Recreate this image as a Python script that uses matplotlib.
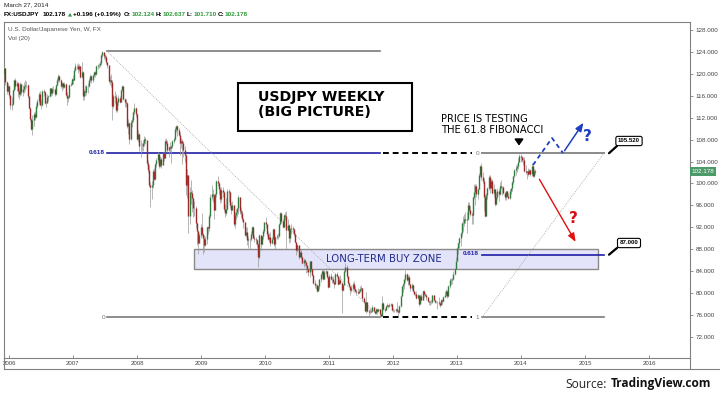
import matplotlib
matplotlib.use("Agg")
import matplotlib.pyplot as plt
import numpy as np
import pandas as pd
from matplotlib.patches import Rectangle
from matplotlib.lines import Line2D

# weekly USDJPY candles, first week ending 2005-12-02
first_open = 119.3
closes = [
    119.9, 121.0, 118.5, 116.9, 117.8,  # 2005
    116.1, 114.3, 114.5, 117.0, 118.9, 117.7, 118.3, 116.8, 116.3, 118.2, 116.6, 117.3, 117.7,
    117.9, 118.0, 116.0, 113.8, 111.8, 110.0, 111.6, 112.7, 112.2, 114.2, 115.0, 116.4, 114.4,
    114.3, 116.9, 116.6, 114.7, 114.7, 115.8, 116.0, 117.4, 116.5, 117.2, 117.2, 116.4, 118.0,
    118.8, 119.6, 118.8, 117.7, 118.3, 117.6, 118.2, 116.2, 115.6, 115.8, 118.0, 118.2, 119.0,  # 2006
    118.9, 120.7, 121.5, 121.4, 120.8, 121.4, 119.5, 120.3, 116.0, 116.8, 116.6, 117.7, 117.8,
    118.9, 119.6, 118.9, 119.7, 120.3, 119.9, 121.4, 121.6, 121.7, 121.9, 123.4, 123.9, 123.2,
    123.1, 122.1, 121.6, 118.7, 118.8, 118.6, 114.2, 116.0, 115.8, 113.4, 114.8, 115.6, 114.8,
    117.0, 117.7, 115.5, 114.8, 114.6, 110.5, 111.0, 108.1, 111.2, 111.6, 113.0, 113.7, 112.6,  # 2007
    108.1, 109.0, 106.9, 106.9, 106.8, 107.3, 108.2, 107.9, 103.7, 102.4, 99.8, 99.3, 99.8,
    102.2, 100.9, 103.5, 104.3, 105.4, 103.2, 104.5, 103.4, 105.5, 104.6, 107.8, 107.4, 106.1,
    106.6, 106.4, 106.9, 107.8, 108.1, 109.9, 110.5, 109.7, 108.8, 107.3, 107.8, 107.4, 106.1,
    105.2, 99.7, 101.6, 94.1, 98.5, 98.3, 97.3, 95.5, 95.5, 92.7, 91.4, 89.2, 90.6,  # 2008
    92.1, 90.8, 90.0, 88.8, 89.8, 92.0, 91.9, 94.0, 97.6, 98.1, 97.9, 95.2, 98.0,
    100.4, 100.0, 99.0, 97.2, 98.8, 98.4, 95.3, 94.6, 95.3, 98.6, 98.4, 96.0, 95.2,
    96.0, 92.6, 94.2, 94.8, 95.5, 97.6, 94.9, 94.6, 93.6, 92.9, 90.6, 91.2, 89.7,
    89.8, 89.8, 90.8, 92.1, 90.1, 89.9, 89.7, 89.0, 86.5, 90.6, 89.0, 90.4, 91.3,  # 2009
    93.0, 92.6, 90.8, 89.9, 90.3, 89.2, 89.9, 91.6, 89.0, 90.3, 90.5, 90.5, 92.6,
    94.6, 93.2, 92.1, 94.2, 94.0, 91.5, 92.5, 90.0, 91.7, 91.8, 91.7, 90.7, 89.3,
    87.8, 88.7, 86.6, 87.4, 86.5, 85.4, 86.1, 85.6, 85.1, 84.3, 83.9, 85.8, 84.3,
    83.3, 81.9, 81.4, 81.4, 80.4, 81.2, 82.5, 83.5, 84.1, 82.5, 83.9, 84.0, 82.9, 81.1,  # 2010
    83.2, 82.6, 82.5, 82.1, 81.7, 83.4, 83.1, 81.7, 82.4, 81.8, 80.6, 81.5, 84.0,
    84.8, 83.1, 81.9, 81.2, 80.6, 80.9, 81.7, 80.8, 80.4, 80.2, 80.0, 80.4, 80.8,
    81.0, 79.1, 78.4, 76.8, 78.4, 76.8, 76.5, 76.6, 76.8, 77.5, 76.8, 76.3, 77.1,
    76.7, 77.0, 76.2, 75.8, 78.2, 77.1, 76.9, 77.7, 77.9, 77.6, 77.8, 78.0, 76.9,  # 2011
    76.9, 76.9, 77.0, 76.7, 76.6, 77.6, 79.5, 81.2, 81.7, 82.5, 83.4, 82.4, 82.9,
    81.7, 80.9, 81.5, 80.3, 79.9, 79.9, 79.1, 79.7, 78.0, 79.5, 78.7, 80.4, 79.8,
    79.6, 79.2, 78.5, 78.4, 78.4, 78.3, 79.6, 78.7, 78.3, 78.4, 78.4, 78.2, 77.9,
    78.7, 78.5, 79.3, 79.6, 80.4, 79.5, 81.3, 82.4, 82.4, 82.5, 83.5, 84.3, 85.8,  # 2012
    88.2, 89.2, 90.1, 90.9, 92.7, 92.7, 93.5, 93.4, 93.6, 96.0, 95.2, 94.5, 94.2,
    97.6, 98.4, 99.6, 98.0, 99.0, 101.6, 103.2, 101.2, 100.5, 97.6, 94.1, 97.9, 99.2,
    101.2, 99.2, 100.4, 98.3, 98.9, 96.2, 97.5, 98.7, 98.1, 99.6, 99.4, 99.4, 98.3,
    97.5, 98.6, 97.7, 97.4, 98.6, 99.1, 100.2, 101.3, 102.4, 102.9, 103.2, 104.0, 105.0,  # 2013
    104.8, 104.2, 104.3, 102.3, 102.0, 102.2, 101.8, 102.5, 101.8, 103.2, 101.4, 102.2, 102.178,  # 2014
]
highs = [
    120.3, 121.4, 121.0, 118.7, 118.3,
    118.0, 116.2, 115.8, 117.3, 119.0, 119.3, 118.7, 118.6, 117.4, 118.6, 118.3, 117.9, 118.5,
    118.9, 118.7, 118.2, 116.0, 114.0, 112.0, 112.5, 113.1, 113.2, 114.6, 115.4, 116.6, 116.9,
    115.2, 117.1, 117.3, 116.8, 115.0, 116.3, 116.2, 117.5, 117.4, 117.6, 117.8, 117.5, 118.2,
    119.2, 119.9, 119.8, 119.0, 118.6, 118.5, 118.5, 118.3, 116.6, 116.2, 118.2, 118.5, 119.3,
    119.8, 121.0, 121.9, 121.8, 121.9, 121.8, 121.5, 122.2, 120.5, 117.2, 118.0, 117.9, 118.3,
    119.2, 119.9, 119.7, 120.0, 120.6, 120.5, 121.6, 121.8, 122.0, 122.4, 123.6, 124.1, 123.9,
    123.6, 123.4, 122.2, 121.6, 119.6, 119.9, 118.8, 116.4, 116.9, 116.3, 115.2, 116.1, 116.0,
    117.2, 117.9, 117.7, 115.6, 115.5, 114.8, 111.7, 111.2, 111.5, 112.2, 113.3, 114.6, 114.0,
    112.8, 109.7, 109.2, 107.9, 107.3, 108.0, 108.6, 108.5, 108.0, 104.3, 103.4, 100.2, 100.4,
    102.7, 102.8, 103.8, 104.6, 105.7, 105.5, 105.0, 104.8, 105.7, 105.6, 108.2, 108.3, 107.9,
    106.9, 107.5, 107.1, 108.0, 108.5, 110.3, 110.7, 110.6, 110.2, 109.3, 108.3, 108.1, 107.7,
    106.8, 105.3, 102.6, 101.6, 99.4, 100.6, 98.8, 97.5, 96.8, 95.8, 93.0, 91.5, 90.9,
    92.6, 94.6, 91.0, 90.6, 90.5, 92.2, 92.3, 94.4, 98.0, 99.7, 99.0, 98.0, 98.3,
    100.6, 101.4, 100.3, 99.4, 99.4, 99.3, 98.6, 96.2, 97.4, 98.9, 98.9, 98.6, 96.6,
    96.8, 96.1, 94.7, 95.4, 95.6, 97.8, 97.6, 95.7, 95.1, 93.7, 92.9, 92.0, 92.1,
    90.4, 90.1, 91.3, 92.3, 92.3, 90.6, 90.3, 89.8, 89.1, 90.8, 90.0, 90.5, 91.7,
    93.0, 93.8, 92.6, 91.4, 90.9, 91.2, 90.2, 91.9, 91.7, 90.5, 90.7, 91.0, 92.7,
    94.8, 94.7, 93.5, 94.4, 94.7, 94.9, 93.5, 92.6, 91.9, 92.6, 92.2, 91.9, 90.9,
    89.4, 88.9, 88.8, 87.6, 88.0, 86.8, 86.4, 86.2, 85.6, 85.2, 84.5, 85.9, 85.7,
    84.4, 83.4, 82.3, 81.7, 81.6, 81.5, 82.6, 83.7, 84.4, 84.4, 84.2, 84.5, 84.1, 83.1,
    83.5, 83.6, 83.0, 83.2, 82.2, 83.6, 83.9, 83.2, 82.9, 83.3, 82.0, 81.7, 84.2,
    85.5, 85.2, 83.2, 82.1, 81.3, 81.5, 82.0, 82.2, 81.3, 80.7, 80.9, 80.8, 81.2,
    81.5, 81.0, 79.3, 78.6, 80.2, 78.4, 77.0, 77.2, 77.1, 77.8, 77.4, 76.8, 77.2,
    77.0, 77.3, 77.0, 76.3, 79.5, 78.3, 77.2, 77.9, 78.1, 77.9, 78.1, 78.1, 78.1,
    77.2, 77.0, 77.3, 78.3, 76.9, 77.9, 79.7, 81.3, 81.9, 82.6, 84.2, 83.6, 83.3,
    83.3, 81.7, 81.8, 81.6, 80.4, 80.1, 80.3, 79.8, 79.7, 79.9, 79.8, 80.6, 80.5,
    80.0, 79.9, 79.2, 78.6, 78.8, 78.7, 79.6, 79.6, 78.8, 78.6, 78.6, 79.2, 78.3,
    78.9, 78.9, 79.4, 80.4, 80.7, 80.5, 81.5, 82.8, 82.7, 82.8, 84.0, 84.6, 86.6,
    88.4, 89.3, 90.2, 91.2, 92.9, 94.1, 94.5, 94.8, 94.8, 96.6, 96.7, 95.9, 94.8,
    97.7, 99.9, 99.9, 99.9, 99.2, 101.9, 103.3, 103.7, 102.0, 101.0, 98.0, 98.2, 99.4,
    101.5, 101.5, 100.9, 100.8, 99.9, 99.0, 98.4, 99.1, 98.9, 100.2, 100.6, 99.6, 99.6,
    98.4, 98.7, 98.6, 98.3, 99.0, 99.2, 100.4, 101.4, 102.6, 103.4, 103.6, 104.6, 105.4,
    105.4, 105.0, 104.9, 104.9, 103.4, 102.3, 102.8, 102.7, 102.6, 103.8, 103.3, 102.7, 102.637,
]
lows = [
    118.9, 119.6, 117.9, 116.3, 116.6,
    115.6, 113.5, 113.4, 114.3, 116.8, 117.3, 116.9, 115.8, 115.4, 115.9, 116.1, 115.9, 116.5,
    116.9, 117.5, 115.6, 113.5, 111.4, 109.7, 108.9, 110.5, 111.5, 111.9, 113.8, 114.5, 114.3,
    113.5, 114.1, 115.9, 114.5, 113.9, 114.6, 115.0, 115.8, 115.9, 116.1, 116.7, 115.9, 116.2,
    117.7, 118.6, 118.5, 117.5, 116.9, 117.2, 117.4, 115.9, 114.4, 114.9, 115.6, 117.7, 117.9,
    118.2, 118.8, 120.6, 120.8, 120.2, 120.6, 119.2, 119.3, 115.3, 115.2, 115.9, 116.2, 116.5,
    117.6, 118.6, 118.3, 118.6, 119.5, 119.4, 119.8, 120.9, 121.1, 121.2, 121.6, 123.0, 122.7,
    122.6, 121.8, 121.1, 118.4, 117.9, 117.6, 111.6, 113.7, 114.6, 113.1, 113.0, 114.3, 114.6,
    114.8, 116.8, 115.3, 113.9, 114.0, 110.2, 109.0, 107.2, 108.0, 110.3, 111.3, 112.6, 112.2,
    107.9, 107.6, 105.9, 104.9, 105.9, 105.9, 106.8, 107.2, 103.4, 101.9, 99.4, 95.7, 97.2,
    99.2, 100.6, 100.6, 103.0, 103.8, 102.8, 103.0, 102.9, 103.3, 104.1, 104.6, 107.0, 105.8,
    104.9, 105.8, 103.8, 106.4, 107.3, 108.0, 109.3, 108.6, 108.6, 105.2, 106.4, 103.5, 104.8,
    103.9, 97.8, 97.4, 90.9, 92.6, 96.3, 94.8, 93.8, 94.1, 91.8, 88.8, 87.1, 89.2,
    90.0, 90.4, 87.1, 87.5, 88.5, 88.9, 90.8, 91.3, 93.7, 97.0, 96.7, 93.6, 95.1,
    97.5, 99.6, 98.1, 96.4, 96.7, 97.6, 95.0, 93.9, 94.2, 95.2, 96.6, 95.6, 94.4,
    95.2, 92.2, 91.8, 93.6, 93.9, 94.5, 94.5, 93.8, 93.2, 91.8, 90.4, 90.3, 88.8,
    88.2, 88.0, 89.5, 90.5, 90.0, 89.4, 88.9, 88.4, 84.8, 86.3, 87.8, 88.8, 89.9,
    90.9, 91.8, 90.5, 89.7, 89.4, 88.5, 88.9, 89.8, 88.6, 88.1, 89.8, 89.8, 90.2,
    92.4, 92.8, 91.9, 92.0, 93.3, 88.0, 91.4, 89.1, 89.3, 90.8, 90.9, 90.5, 89.1,
    86.9, 87.5, 86.3, 86.5, 86.2, 85.3, 84.7, 85.0, 83.6, 83.9, 83.2, 82.9, 84.1,
    83.2, 81.7, 80.9, 80.8, 80.2, 80.3, 80.8, 82.1, 82.8, 82.3, 82.6, 83.4, 82.7, 81.0,
    81.1, 82.3, 81.9, 81.9, 80.9, 81.6, 83.0, 81.5, 81.6, 81.6, 76.3, 80.3, 81.4,
    83.8, 82.8, 81.6, 81.1, 79.6, 80.2, 80.5, 80.4, 80.1, 79.7, 79.8, 80.0, 80.2,
    80.4, 78.5, 78.2, 76.7, 76.3, 76.6, 75.9, 76.1, 76.5, 76.6, 76.6, 76.1, 76.2,
    76.3, 76.6, 75.8, 75.6, 75.8, 76.9, 76.6, 76.9, 77.5, 77.3, 77.4, 77.7, 76.8,
    76.6, 76.6, 76.5, 76.6, 75.6, 76.4, 77.4, 79.4, 80.1, 80.8, 82.1, 82.2, 81.4,
    81.5, 80.3, 80.6, 80.1, 79.7, 79.5, 79.0, 78.9, 77.7, 78.0, 78.6, 78.8, 79.3,
    79.5, 78.7, 78.3, 77.9, 77.9, 78.0, 78.2, 78.6, 78.2, 78.1, 77.1, 77.9, 77.4,
    77.8, 78.0, 78.4, 79.5, 79.4, 79.1, 79.3, 81.0, 81.7, 81.7, 82.4, 83.3, 84.9,
    85.8, 87.1, 88.2, 88.5, 90.5, 91.3, 92.2, 92.8, 90.9, 93.4, 94.7, 94.1, 92.6,
    92.6, 97.2, 96.0, 97.6, 97.1, 98.9, 101.2, 100.6, 100.0, 94.9, 93.8, 94.3, 97.2,
    98.8, 98.3, 99.1, 98.1, 97.6, 95.8, 96.0, 97.2, 96.8, 97.8, 98.9, 97.8, 98.1,
    96.9, 96.9, 97.5, 97.1, 97.2, 98.0, 98.7, 99.9, 101.1, 101.6, 102.1, 102.7, 103.9,
    104.0, 103.9, 103.4, 102.1, 101.8, 100.8, 101.4, 101.8, 101.3, 101.3, 101.2, 101.2, 101.710,
]

# fibonacci levels drawn on the chart
fib_high = 124.14
fib_low = 75.56
fib_top = 105.52
buy_level = 87.0
last_price = 102.178

year_ticks = list(range(2006, 2017))
price_ticks = list(range(72, 129, 4))

W, H = 720, 397


def fx(x):
    return x / W


def fy(y):
    return 1 - y / H


def yr(x):
    # pixel column -> decimal year
    return 2006 + (x - 9) / 64


closes = np.array(closes)
highs = np.array(highs)
lows = np.array(lows)
opens = np.r_[first_open, closes[:-1]]
highs = np.maximum(highs, np.maximum(opens, closes))
lows = np.minimum(lows, np.minimum(opens, closes))

dates = pd.date_range("2005-12-02", periods=len(closes), freq="W-FRI") - pd.Timedelta(days=4)
t = np.asarray(dates.year + (dates.dayofyear - 1) / 365.25)
up = closes >= opens

sans = ["Liberation Sans", "DejaVu Sans"]
grey = "#808080"
blue = "#1f1fa5"

fig = plt.figure(figsize=(W / 100, H / 100), dpi=100)
ax = fig.add_axes([fx(4), fy(358), (690 - 4) / W, (358 - 22) / H])
ax.set_xlim(yr(4), yr(690))
ax.set_ylim(128 - (358 - 30) / 5.48, 128 + 8 / 5.48)

# buy zone
ax.add_patch(Rectangle((yr(194), 84.4), yr(598) - yr(194), 3.6,
                       facecolor="#e3e3f9", edgecolor="#8a8a8a", lw=1.0, zorder=1))
ax.text(yr(384), 86.2, "LONG-TERM BUY ZONE", color="#1c2a8a", fontsize=7.3,
        ha="center", va="center", zorder=5)

# candles
ax.vlines(t, lows, highs, color="#9a9a9a", lw=0.5, zorder=3)
ax.vlines(t[up], opens[up], closes[up], color="#2f7d3f", lw=1.0, zorder=4)
ax.vlines(t[~up], closes[~up], opens[~up], color="#9e2828", lw=1.0, zorder=4)

# first fibonacci tool: 2007 high to 2011 low
t1, t2 = yr(107), yr(380)
fib_618 = fib_low + 0.618 * (fib_high - fib_low)
ax.plot([t1, t2], [fib_high, fib_high], color="#7a7a7a", lw=1.2, zorder=2)
ax.plot([t1, t2], [fib_618, fib_618], color=blue, lw=1.2, zorder=2)
ax.plot([t1, t2], [fib_low, fib_low], color="#7a7a7a", lw=1.2, zorder=2)
ax.plot([t1, t2], [fib_high, fib_low], color="#a0a0a0", lw=0.6, ls=(0, (1, 1.5)), zorder=2)
ax.text(yr(105), fib_618, "0.618", color=blue, fontsize=4.6, fontweight="bold",
        ha="right", va="center", family=sans)
ax.text(yr(105), fib_low, "0", color="#777777", fontsize=4.6, ha="right", va="center", family=sans)

# dashed extensions
ax.plot([yr(383), yr(472)], [fib_top, fib_top], color="black", lw=1.4, ls=(0, (3, 2)), zorder=2)
ax.plot([yr(383), yr(472)], [fib_low, fib_low], color="black", lw=1.4, ls=(0, (3, 2)), zorder=2)

# second fibonacci tool: 2011 low to 105.52
t3, t4 = yr(482), yr(604)
ax.plot([t3, t4], [fib_top, fib_top], color="#8a8a8a", lw=1.4, zorder=2)
ax.plot([t3, t4], [fib_low, fib_low], color="#7a7a7a", lw=1.2, zorder=2)
ax.plot([t3, t4], [buy_level, buy_level], color=blue, lw=1.2, zorder=2)
ax.plot([t3, t4], [fib_low, fib_top], color="#a0a0a0", lw=0.6, ls=(0, (1, 1.5)), zorder=2)
ax.text(yr(479), fib_top, "0", color="#777777", fontsize=4.6, ha="right", va="center", family=sans)
ax.text(yr(479), fib_low, "1", color="#777777", fontsize=4.6, ha="right", va="center", family=sans)
ax.text(yr(479), buy_level + 0.2, "0.618", color=blue, fontsize=4.6, fontweight="bold",
        ha="right", va="center", family=sans)

# arrows and question marks
ax.annotate("", xy=(yr(519), 106.4), xytext=(yr(519), 108.3),
            arrowprops=dict(arrowstyle="-|>,head_width=0.25,head_length=0.35", color="black", lw=1.3))
bx = [yr(533), yr(552), yr(563)]
by = [103.36, 108.29, 105.55]
ax.plot(bx, by, color="#1f3fc0", lw=1.3, ls=(0, (2.5, 2)), zorder=6)
ax.annotate("", xy=(yr(585), 111.5), xytext=(bx[-1], by[-1]),
            arrowprops=dict(arrowstyle="-|>,head_width=0.2,head_length=0.5", color="#1f3fc0", lw=1.1))
ax.text(yr(587), 108.6, "?", color="#1f3fc0", fontsize=11, fontweight="bold", ha="center", va="center")
ax.annotate("", xy=(yr(577), 88.9), xytext=(yr(538), 101.2),
            arrowprops=dict(arrowstyle="-|>,head_width=0.2,head_length=0.5", color="#e01010", lw=1.0))
ax.text(yr(573), 93.6, "?", color="#d81010", fontsize=11, fontweight="bold", ha="center", va="center")

# axes look
for side in ["left", "top", "right", "bottom"]:
    ax.spines[side].set_color(grey)
    ax.spines[side].set_linewidth(0.8)
ax.yaxis.tick_right()
ax.set_yticks(price_ticks)
ax.set_yticklabels([f"{p:.3f}" for p in price_ticks], family=sans, fontsize=4.5, color="#444444")
ax.tick_params(axis="y", direction="out", length=2.5, width=0.6, color=grey, pad=1.5)
ax.set_xticks(year_ticks)
ax.set_xticklabels([str(y) for y in year_ticks], family=sans, fontsize=4.4, color="#444444")
ax.tick_params(axis="x", direction="in", length=2.5, width=0.6, color=grey, pad=2.5)

ax.annotate(f"{last_price:.3f}", xy=(1, last_price), xycoords=("axes fraction", "data"),
            xytext=(1.0, 0), textcoords="offset points", ha="left", va="center",
            fontsize=4.5, color="white", family=sans,
            bbox=dict(boxstyle="square,pad=0.3", fc="#4c9a68", ec="none"))

# outer frame below time axis
fig.add_artist(Line2D([fx(3.5), fx(3.5)], [fy(358), fy(369)], color=grey, lw=0.8))
fig.add_artist(Line2D([fx(3.5), fx(720)], [fy(369), fy(369)], color=grey, lw=0.8))
fig.add_artist(Line2D([fx(690), fx(690)], [fy(358), fy(369)], color=grey, lw=0.8))

# header, laid out piece by piece
renderer = fig.canvas.get_renderer()
fig.text(fx(4), fy(5), "March 27, 2014", fontsize=4.6, family=sans, va="center", color="#222222")
hy = fy(14.5)
green = "#2e9a3a"
pieces = [("FX:USDJPY", "black", 3), ("102.178", "black", 2), ("\u25B2", green, 1.5),
          ("+0.196 (+0.19%)", "black", 3),
          ("O:", "black", 0.5), ("102.124", green, 1), ("H:", "black", 0.5), ("102.637", green, 1),
          ("L:", "black", 0.5), ("101.710", green, 1), ("C:", "black", 0.5), ("102.178", green, 0)]
x = 4
for txt, col, gap in pieces:
    if txt == "\u25B2":
        tt = fig.text(fx(x), fy(13.8), txt, fontsize=3.8, family="DejaVu Sans", color=col, va="center")
    else:
        tt = fig.text(fx(x), hy, txt, fontsize=4.6, family=sans, fontweight="bold",
                      color=col, va="center")
    x += tt.get_window_extent(renderer).width + gap

fig.text(fx(8), fy(30), "U.S. Dollar/Japanese Yen, W, FX", fontsize=4.6, family=sans,
         va="center", color="#555555")
fig.text(fx(8), fy(38.5), "Vol (20)", fontsize=4.6, family=sans, va="center", color="#555555")

# title box
fig.add_artist(Rectangle((fx(238), fy(131)), 174 / W, 48 / H, transform=fig.transFigure,
                         fill=False, ec="black", lw=1.5))
fig.text(fx(258), fy(97.5), "USDJPY WEEKLY", fontsize=10.2, fontweight="bold", va="center")
fig.text(fx(258), fy(111.5), "(BIG PICTURE)", fontsize=10.2, fontweight="bold", va="center")

fig.text(fx(441), fy(119), "PRICE IS TESTING", fontsize=7.2, va="center")
fig.text(fx(441), fy(130), "THE 61.8 FIBONACCI", fontsize=7.2, va="center")

# price callouts
for label, ytop, target in [("105.520", 141, fib_top), ("87.000", 243, buy_level)]:
    fig.text(fx(629), fy(ytop), label, fontsize=4.4, family=sans, fontweight="bold",
             ha="center", va="center",
             bbox=dict(boxstyle="round,pad=0.35,rounding_size=0.3", fc="white", ec="black", lw=0.8))
    ax.annotate("", xy=(yr(609), target), xycoords="data",
                xytext=(fx(617), fy(ytop + 5)), textcoords="figure fraction",
                arrowprops=dict(arrowstyle="-", color="black", lw=1.6, shrinkA=0, shrinkB=0),
                annotation_clip=False)

# source
fig.text(fx(565), fy(384), "Source:", fontsize=8.6, family=["Open Sans", "DejaVu Sans"],
         va="center", color="#222222")
fig.text(fx(611), fy(384), "TradingView.com", fontsize=8.6, family=["Open Sans", "DejaVu Sans"],
         fontweight="bold", va="center", color="#111111")

fig.savefig("out.png", dpi=100)
